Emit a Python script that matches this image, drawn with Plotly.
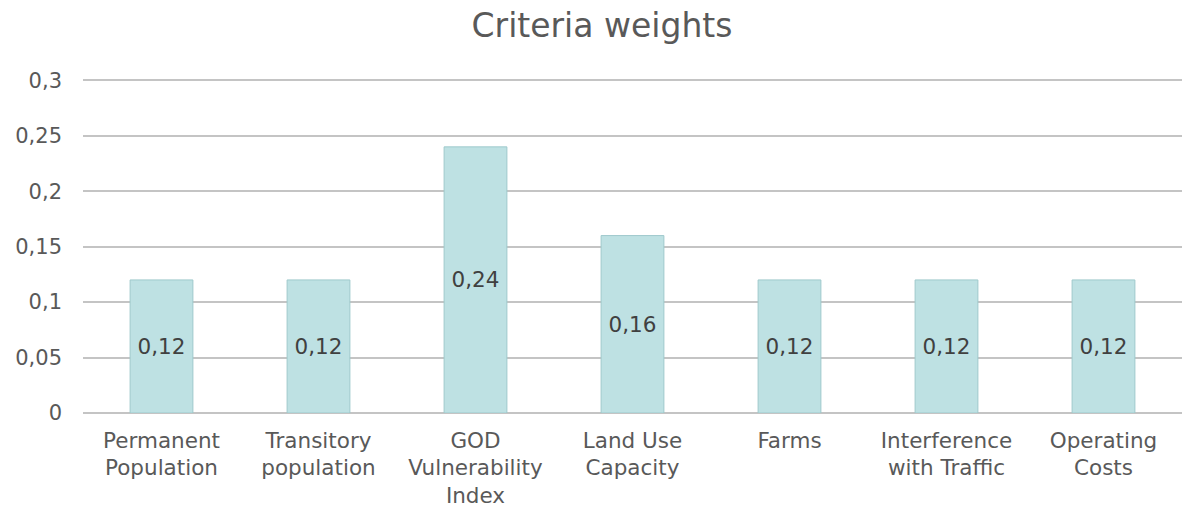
import plotly.graph_objects as go

categories = [
    "Permanent<br>Population",
    "Transitory<br>population",
    "GOD<br>Vulnerability<br>Index",
    "Land Use<br>Capacity",
    "Farms",
    "Interference<br>with Traffic",
    "Operating<br>Costs",
]
weights = [0.12, 0.12, 0.24, 0.16, 0.12, 0.12, 0.12]
y_ticks = [0, 0.05, 0.1, 0.15, 0.2, 0.25, 0.3]
y_tick_labels = ["0", "0,05", "0,1", "0,15", "0,2", "0,25", "0,3"]

labels = [f"{w:.2f}".replace(".", ",") for w in weights]

FONT = "DejaVu Sans, Liberation Sans, Arial"

fig = go.Figure(
    go.Bar(
        x=categories,
        y=weights,
        text=labels,
        textposition="inside",
        insidetextanchor="middle",
        textangle=0,
        textfont=dict(size=21.5, color="#404040", family=FONT),
        marker=dict(color="#bee1e3", line=dict(color="#9fc9cc", width=1)),
    )
)

fig.update_layout(
    width=1186,
    height=507,
    margin=dict(l=83, r=4, t=77, b=94, autoexpand=False),
    paper_bgcolor="white",
    plot_bgcolor="white",
    bargap=0.6,
    showlegend=False,
    font=dict(family=FONT, color="#595959", size=21),
    title=dict(
        text="Criteria weights",
        x=0.5076,
        xanchor="center",
        y=0.95,
        yanchor="middle",
        font=dict(size=33, color="#595959", family=FONT),
    ),
    uniformtext=dict(mode=False),
)

fig.update_xaxes(
    automargin=False,
    showgrid=False,
    showline=False,
    ticks="",
    ticklabelstandoff=12,
    tickfont=dict(size=21.5, color="#595959", family=FONT),
)
fig.update_yaxes(
    automargin=False,
    range=[0, 0.303],
    tickvals=y_ticks,
    ticktext=y_tick_labels,
    showgrid=True,
    gridcolor="#c4c4c4",
    gridwidth=1.5,
    zeroline=True,
    zerolinecolor="#c4c4c4",
    zerolinewidth=1.5,
    showline=False,
    ticks="",
    ticklabelstandoff=20,
    tickfont=dict(size=21, color="#595959", family=FONT),
)

fig.write_html("out.html")
